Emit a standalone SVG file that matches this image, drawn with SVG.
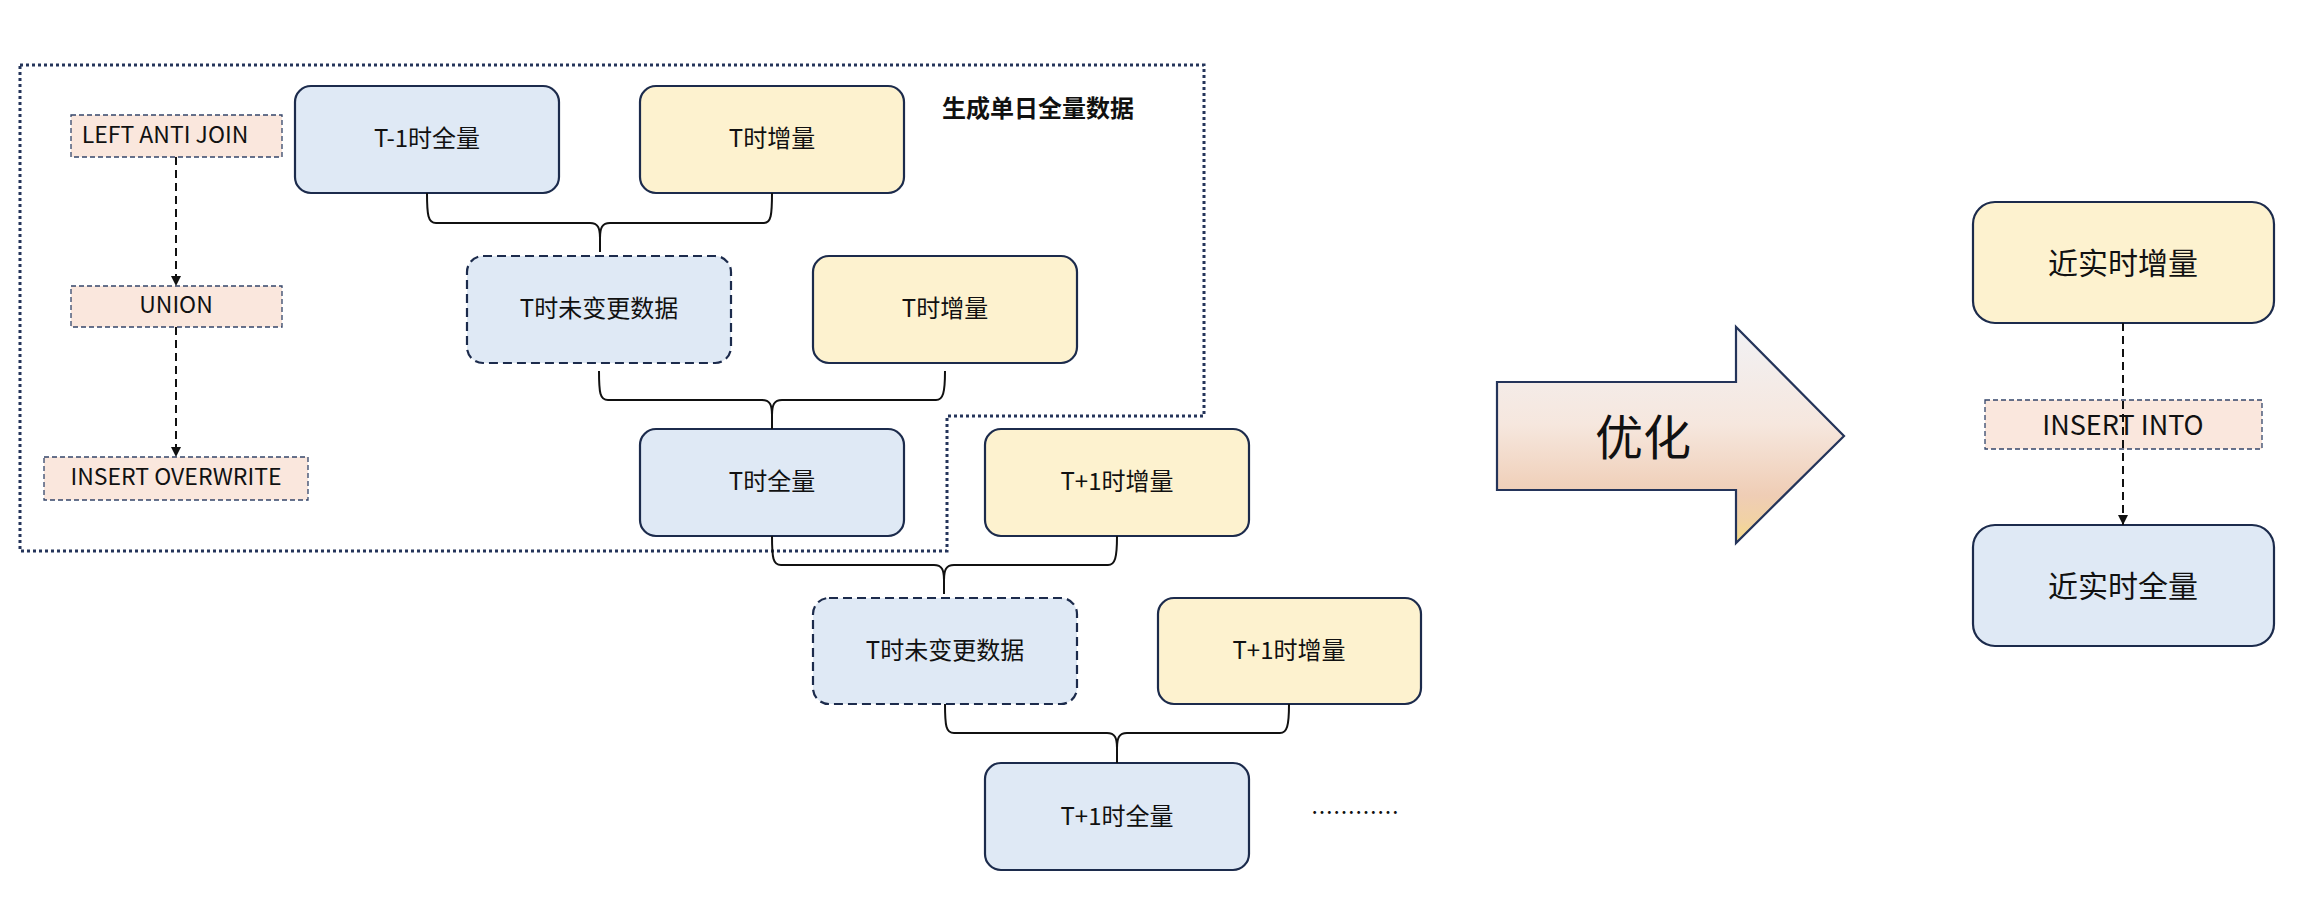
<svg xmlns="http://www.w3.org/2000/svg" width="2317" height="919" viewBox="0 0 2317 919">
<style>
text{font-family:"Noto Sans CJK SC","Noto Sans",sans-serif;fill:#111;text-anchor:middle;dominant-baseline:central}
.blue{fill:#dfe9f5;stroke:#1c2b4c;stroke-width:2.2}
.yellow{fill:#fdf2cf;stroke:#1c2b4c;stroke-width:2.2}
.dash{stroke-dasharray:9 5}
.lbl{fill:#fae7dd;stroke:#34456a;stroke-width:1.3;stroke-dasharray:5 3}
.nt{font-size:24px}
.lt{font-size:23px}
.brace{fill:none;stroke:#111;stroke-width:2}
.darrow{fill:none;stroke:#111;stroke-width:2;stroke-dasharray:8 5}
.frame{fill:none;stroke:#24345a;stroke-width:3;stroke-dasharray:3 3}
</style>
<defs>
<marker id="ah" viewBox="0 0 10 10" refX="10" refY="5" markerWidth="10" markerHeight="10" markerUnits="userSpaceOnUse" orient="auto">
<path d="M0,0 L10,5 L0,10 Z" fill="#111"/>
</marker>
<linearGradient id="ag" x1="0" y1="0" x2="0" y2="1">
<stop offset="0" stop-color="#f1f1f4"/>
<stop offset="0.45" stop-color="#f6e7de"/>
<stop offset="0.78" stop-color="#efcdb5"/>
<stop offset="0.9" stop-color="#f1d2a4"/>
<stop offset="1" stop-color="#f7dc86"/>
</linearGradient>
</defs>
<rect width="2317" height="919" fill="#ffffff"/>

<g id="frame">
<path class="frame" d="M20,65 L1204,65 L1204,416 L947,416 L947,551 L20,551 Z"/>
<text x="1038" y="106" style="font-size:24px;font-weight:bold">生成单日全量数据</text>
</g>

<g id="l1"><rect class="lbl" x="71" y="115" width="211" height="42"/><text class="lt" x="165" y="133">LEFT ANTI JOIN</text></g>
<g id="l2"><rect class="lbl" x="71" y="286" width="211" height="41"/><text class="lt" x="176" y="303">UNION</text></g>
<g id="l3"><rect class="lbl" x="44" y="457" width="264" height="43"/><text class="lt" x="176" y="475">INSERT OVERWRITE</text></g>

<g id="n1"><rect class="blue" x="295" y="86" width="264" height="107" rx="16"/><text class="nt" x="427" y="136">T-1时全量</text></g>
<g id="n2"><rect class="yellow" x="640" y="86" width="264" height="107" rx="16"/><text class="nt" x="772" y="136">T时增量</text></g>
<g id="n3"><rect class="blue dash" x="467" y="256" width="264" height="107" rx="16"/><text class="nt" x="599" y="306">T时未变更数据</text></g>
<g id="n4"><rect class="yellow" x="813" y="256" width="264" height="107" rx="16"/><text class="nt" x="945" y="306">T时增量</text></g>
<g id="n5"><rect class="blue" x="640" y="429" width="264" height="107" rx="16"/><text class="nt" x="772" y="479">T时全量</text></g>
<g id="n6"><rect class="yellow" x="985" y="429" width="264" height="107" rx="16"/><text class="nt" x="1117" y="479">T+1时增量</text></g>
<g id="n7"><rect class="blue dash" x="813" y="598" width="264" height="106" rx="16"/><text class="nt" x="945" y="648">T时未变更数据</text></g>
<g id="n8"><rect class="yellow" x="1158" y="598" width="263" height="106" rx="16"/><text class="nt" x="1289" y="648">T+1时增量</text></g>
<g id="n9"><rect class="blue" x="985" y="763" width="264" height="107" rx="16"/><text class="nt" x="1117" y="814">T+1时全量</text></g>
<g id="more"><text x="1355" y="810" style="font-size:22px">…………</text></g>

<g id="opt">
<path d="M1497,382 L1736,382 L1736,327 L1844,436 L1736,543 L1736,490 L1497,490 Z" fill="url(#ag)" stroke="#24345a" stroke-width="2.2"/>
<text x="1643" y="434" style="font-size:48px">优化</text>
</g>

<g id="r1"><rect class="yellow" x="1973" y="202" width="301" height="121" rx="22"/><text x="2123" y="261" style="font-size:30px">近实时增量</text></g>
<g id="r2"><rect class="blue" x="1973" y="525" width="301" height="121" rx="22"/><text x="2123" y="584" style="font-size:30px">近实时全量</text></g>
<g id="r3"><rect class="lbl" x="1985" y="400" width="277" height="49"/><text x="2123" y="423" style="font-size:27px">INSERT INTO</text></g>

<g id="connectors">
<path class="brace" d="M427,193 C427,215 428,223 436,223 L590,223 C598,223 600,228 600,238 L600,252 M600,238 C600,228 602,223 610,223 L764,223 C771,223 772,215 772,193"/>
<path class="brace" d="M599,371 C599,393 600,400 608,400 L762,400 C770,400 772,405 772,415 L772,429 M772,415 C772,405 774,400 782,400 L936,400 C943,400 945,393 945,371"/>
<path class="brace" d="M772,536 C772,558 773,565 781,565 L934,565 C942,565 944,570 944,580 L944,594 M944,580 C944,570 946,565 954,565 L1108,565 C1115,565 1117,558 1117,536"/>
<path class="brace" d="M945,704 C945,726 946,733 954,733 L1107,733 C1115,733 1117,738 1117,748 L1117,763 M1117,748 C1117,738 1119,733 1127,733 L1280,733 C1287,733 1289,726 1289,704"/>
<path class="darrow" d="M176,157 L176,286" marker-end="url(#ah)"/>
<path class="darrow" d="M176,327 L176,457" marker-end="url(#ah)"/>
<path class="darrow" d="M2123,323 L2123,525" marker-end="url(#ah)"/>
</g>
</svg>
